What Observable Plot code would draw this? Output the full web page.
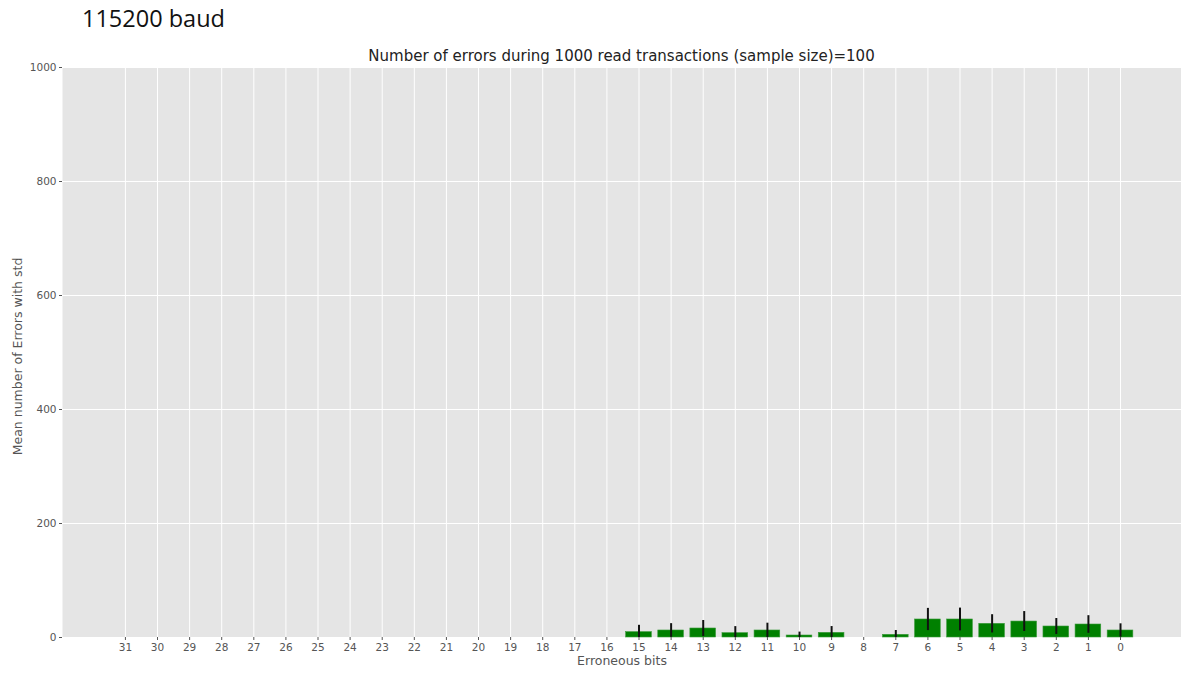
<!DOCTYPE html>
<html>
<head>
<meta charset="utf-8">
<script src="https://cdn.jsdelivr.net/npm/d3@7"></script>
<script src="https://cdn.jsdelivr.net/npm/@observablehq/plot@0.6"></script>
<style>
  html, body { margin: 0; padding: 0; background: #fff; }
  #wrap { position: relative; width: 1181px; height: 675px; overflow: hidden; }
  #baud { position: absolute; left: 82px; top: 2px; font-family: "Open Sans", "Liberation Sans", sans-serif; font-size: 23.5px; color: #111; }
  #title { position: absolute; left: 62px; width: 1119px; top: 47px; text-align: center; font-family: "DejaVu Sans", sans-serif; font-size: 15px; color: #222; }
</style>
</head>
<body>
<div id="wrap">
  <div id="chart"></div>
  <div id="baud">115200 baud</div>
  <div id="title">Number of errors during 1000 read transactions (sample size)=100</div>
</div>
<script>
const bits = [31,30,29,28,27,26,25,24,23,22,21,20,19,18,17,16,15,14,13,12,11,10,9,8,7,6,5,4,3,2,1,0];
const means = [0,0,0,0,0,0,0,0,0,0,0,0,0,0,0,0,9.4,12.3,15.8,7.6,12.3,3.5,8.2,0,4.7,31.6,31.6,24,28,19.3,22.8,12.3];
const stds  = [0,0,0,0,0,0,0,0,0,0,0,0,0,0,0,0,12,12,14,11.5,12.8,6,11,0,7.6,19.5,20,16,17.5,14,15.5,11.7];
const yTicks = [0,200,400,600,800,1000];

const data = bits.map((b, i) => ({bit: b, mean: means[i], std: stds[i]}));
const bars = data.filter(d => d.mean > 0);
const errs = data.filter(d => d.std > 0);
const fmt = d => String(d);

const chart = Plot.plot({
  width: 1181,
  height: 675,
  marginTop: 67,
  marginBottom: 38,
  marginLeft: 62,
  marginRight: 0,
  style: {fontFamily: "DejaVu Sans, sans-serif", fontSize: "10.5px", color: "#555", background: "#fff"},
  x: {type: "linear", domain: [32.96, -1.9], label: null},
  y: {domain: [0, 1000], label: null},
  marks: [
    Plot.frame({fill: "#e5e5e5", stroke: null}),
    Plot.gridX(bits, {stroke: "#fff", strokeOpacity: 1, strokeWidth: 1}),
    Plot.gridY(yTicks, {stroke: "#fff", strokeOpacity: 1, strokeWidth: 1}),
    Plot.rect(bars, {x1: d => d.bit + 0.4, x2: d => d.bit - 0.4, y1: 0, y2: "mean", fill: "#008000", stroke: "#3a9a3a", strokeWidth: 0.6}),
    Plot.ruleX(errs, {x: "bit", y1: d => Math.max(0, d.mean - d.std), y2: d => d.mean + d.std, stroke: "#111", strokeWidth: 2}),
    Plot.axisX({ticks: bits, tickFormat: fmt, tickSize: 3, stroke: "#555", fill: "#555", fontSize: 10.5, tickPadding: 3, label: null}),
    Plot.axisY({ticks: yTicks, tickFormat: fmt, tickSize: 3, stroke: "#555", fill: "#555", fontSize: 10.5, tickPadding: 3, label: null}),
    Plot.text(["Erroneous bits"], {frameAnchor: "bottom", dy: 27, fill: "#555", fontSize: 12.5, textAnchor: "middle"}),
    Plot.text(["Mean number of Errors with std"], {frameAnchor: "left", dx: -45, dy: 4, rotate: -90, fill: "#555", fontSize: 12.5, textAnchor: "middle"})
  ]
});
document.getElementById("chart").appendChild(chart);
</script>
</body>
</html>
